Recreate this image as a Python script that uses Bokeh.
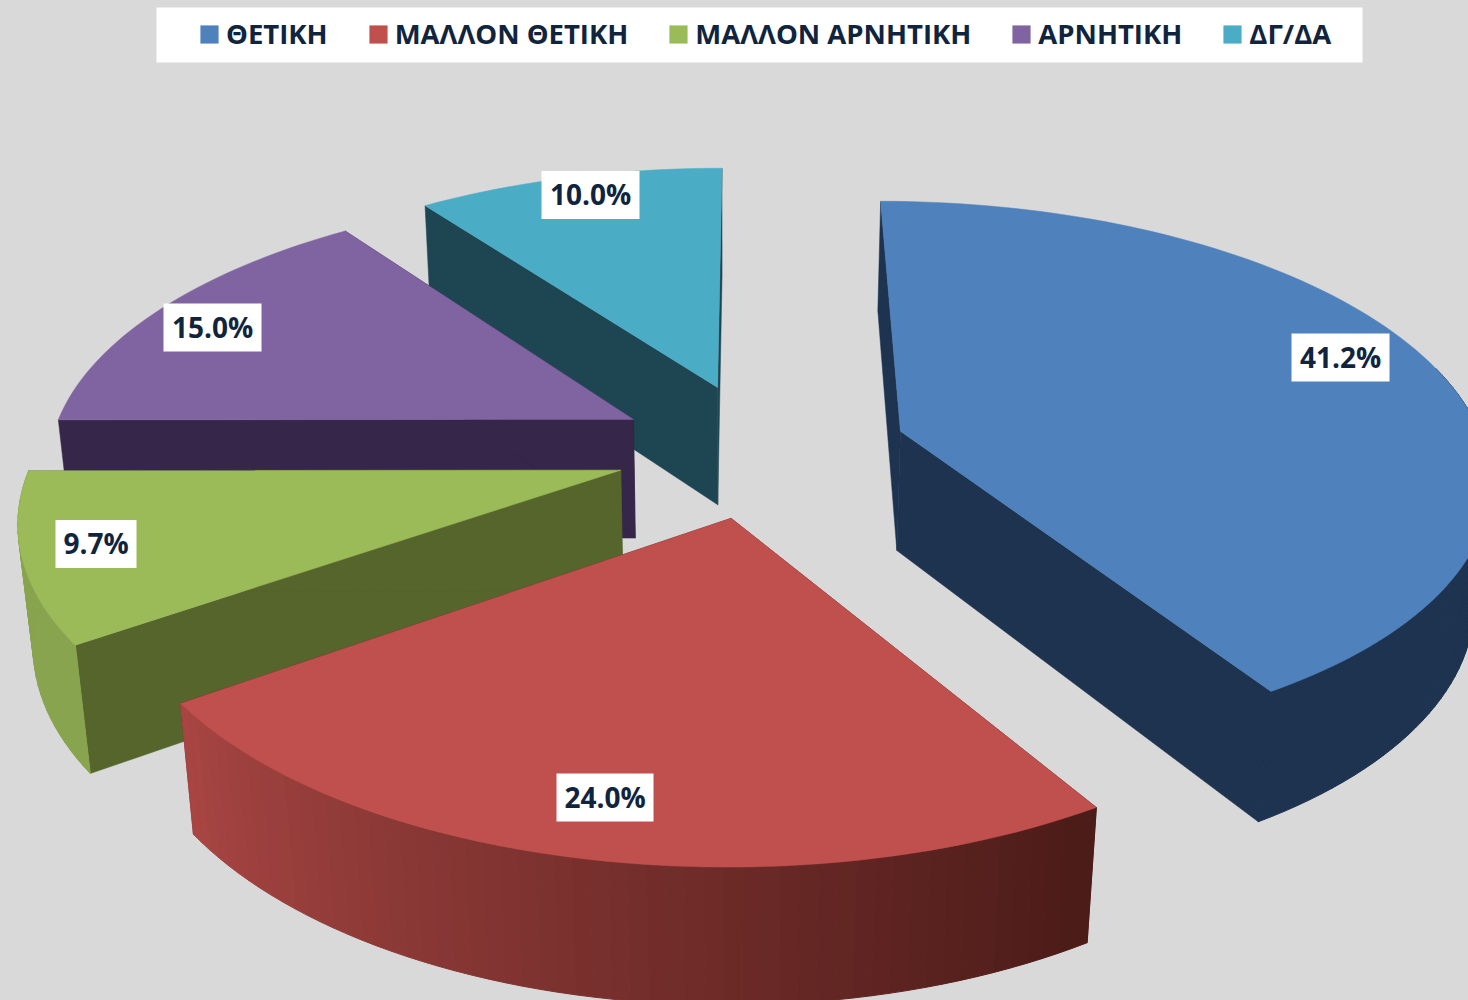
import math
from bokeh.plotting import figure
from bokeh.models import Range1d, Legend, LegendItem, ColumnDataSource
from bokeh.core.properties import value
from bokeh.embed import file_html
from bokeh.resources import INLINE

# ---- data ----
categories = ["ΘΕΤΙΚΗ", "ΜΑΛΛΟΝ ΘΕΤΙΚΗ", "ΜΑΛΛΟΝ ΑΡΝΗΤΙΚΗ", "ΑΡΝΗΤΙΚΗ", "ΔΓ/ΔΑ"]
shares = [41.2, 24.0, 9.7, 15.0, 10.0]
share_labels = ["41.2%", "24.0%", "9.7%", "15.0%", "10.0%"]

# ---- style ----
top_colors = ["#4f81bd", "#c0504d", "#9bbb59", "#8064a2", "#4bacc6"]
face_colors = ["#1d3350", "#4c1c19", "#55652c", "#35264a", "#1e4552"]
BG = "#d9d9d9"
INK = "#10243e"
FONT = "Open Sans"

# ---- layout: perspective pie ----
RADIUS = 585.0
EXPLODE = 146.0
HORIZON_Y = -1300.0
VANISH_X = 751.0
CENTER_X = 761.0
CENTER_Y = 449.0
DEPTH = 3777.0
THICK = 120.0
THICK_Y0 = -2344.0
DOWN_VX = 725.0
DOWN_VY = 6230.0
# label box centres follow the page position of each data label
label_cx = [1340, 604.5, 95.5, 212, 590]
label_cy = [357, 797, 543.5, 327, 194.5]
label_w = [98, 97, 81, 98, 98]
label_h = 48


def project(gx, gy):
    q = 1.0 / (1.0 - gy / DEPTH)
    return VANISH_X + (CENTER_X - VANISH_X + gx) * q, HORIZON_Y + (CENTER_Y - HORIZON_Y) * q


def lower(pt):
    x, y = pt
    dy = THICK * (y - THICK_Y0) / (450.0 - THICK_Y0)
    dx = (DOWN_VX - x) * dy / (DOWN_VY - y)
    return x + dx, y + dy


def rgb(hex_color):
    return tuple(int(hex_color[i:i + 2], 16) for i in (1, 3, 5))


def wall_color(i, theta):
    t = max(0.0, min(1.0, (theta - 150.0) / 85.0))
    dark = rgb(face_colors[i])
    lit = [c * 0.88 for c in rgb(top_colors[i])]
    return "#%02x%02x%02x" % tuple(int(d + (l - d) * t) for d, l in zip(dark, lit))


total = sum(shares)
slices = []
running = 0.0
for i, s in enumerate(shares):
    a0 = running / total * 360.0
    a1 = (running + s) / total * 360.0
    running += s
    mid = math.radians((a0 + a1) / 2)
    ox, oy = EXPLODE * math.sin(mid), -EXPLODE * math.cos(mid)

    def pt(theta, ox=ox, oy=oy):
        t = math.radians(theta)
        return project(ox + RADIUS * math.sin(t), oy - RADIUS * math.cos(t))

    n = max(2, int((a1 - a0) / 1.5))
    angles = [a0 + (a1 - a0) * k / n for k in range(n + 1)]
    slices.append(dict(apex=project(ox, oy), rim=[pt(a) for a in angles], angles=angles))

p = figure(width=1468, height=1000, x_range=Range1d(0, 1468), y_range=Range1d(1000, 0),
           output_backend="svg", toolbar_location=None, min_border=0,
           background_fill_color=BG, border_fill_color=BG, outline_line_color=None)
p.axis.visible = False
p.grid.visible = False

# legend box
p.quad(left=[156], right=[1362], top=[7], bottom=[62], fill_color="white", line_color=None)

top_renderers = {}
for i in [4, 3, 0, 2, 1]:
    sl = slices[i]
    apex, rim, angles = sl["apex"], sl["rim"], sl["angles"]
    fc = face_colors[i]
    # flat cut faces
    for edge in (rim[0], rim[-1]):
        poly = [apex, edge, lower(edge), lower(apex)]
        p.patch([v[0] for v in poly], [v[1] for v in poly], fill_color=fc, line_color=fc, line_width=0.5)
    # curved outer wall, front-facing part only, shaded strip by strip
    xs, ys, cs = [], [], []
    for k in range(len(rim) - 1):
        th = (angles[k] + angles[k + 1]) / 2
        if th < 75 or th > 270:
            continue
        poly = [rim[k], rim[k + 1], lower(rim[k + 1]), lower(rim[k])]
        xs.append([v[0] for v in poly])
        ys.append([v[1] for v in poly])
        cs.append(wall_color(i, th))
    if xs:
        p.patches("xs", "ys", source=ColumnDataSource(dict(xs=xs, ys=ys, c=cs)),
                  fill_color="c", line_color="c", line_width=1.0)
    # top face
    poly = [apex] + rim
    top_renderers[i] = p.patch([v[0] for v in poly], [v[1] for v in poly],
                               fill_color=top_colors[i], line_color=top_colors[i], line_width=0.5)

# data labels
p.rect(x=label_cx, y=label_cy, width=label_w, height=label_h, fill_color="white", line_color=None)
p.text(x=label_cx, y=[c - 1 for c in label_cy], text=share_labels, text_font=value(FONT), text_font_style="bold",
       text_font_size="28px", text_color=INK, text_align="center", text_baseline="middle")

legend = Legend(items=[LegendItem(label=c, renderers=[top_renderers[i]]) for i, c in enumerate(categories)],
                orientation="horizontal", location=(198, 948), padding=0, margin=0, spacing=39,
                glyph_width=22, glyph_height=22, label_standoff=6,
                label_text_font=FONT, label_text_font_style="bold", label_text_font_size="27.5px",
                label_text_color=INK, background_fill_alpha=0, border_line_color=None,
                label_height=18)
p.add_layout(legend, "center")

html = file_html(p, INLINE)
html = html.replace("<head>", "<head><style>html,body{background:%s}</style>" % BG, 1)
open("out.html", "w").write(html)
